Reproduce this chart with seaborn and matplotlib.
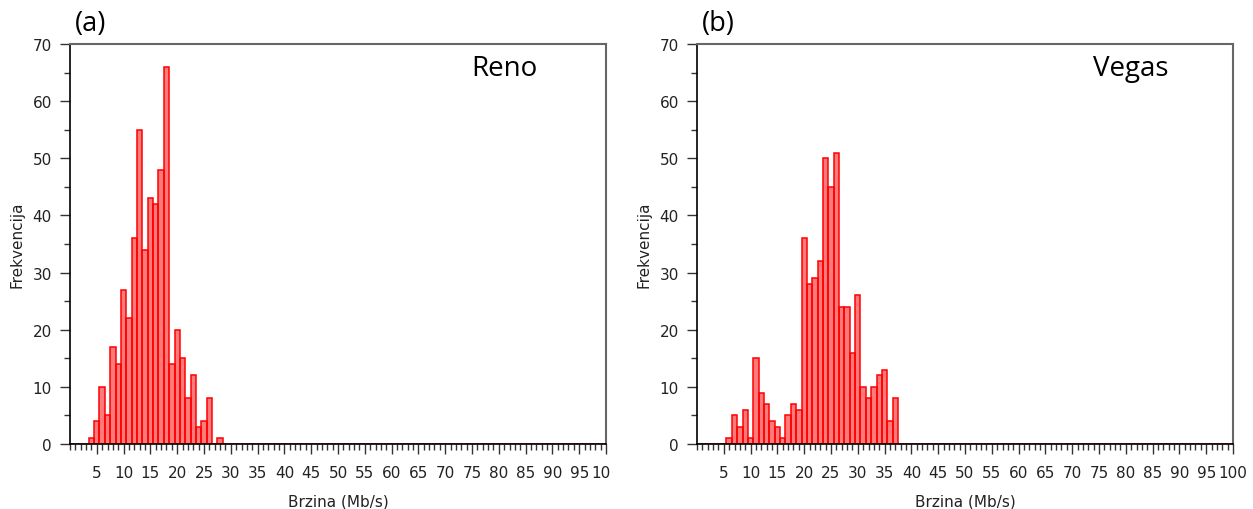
import numpy as np
import pandas as pd
import matplotlib
matplotlib.use("Agg")
import matplotlib.pyplot as plt
import seaborn as sns
from matplotlib.ticker import MultipleLocator
from matplotlib.transforms import Bbox, TransformedBbox

# ---- data (speed in Mb/s, frequency) ----
reno_speeds = list(range(4, 29))
reno_counts = [1, 4, 10, 5, 17, 14, 27, 22, 36, 55, 34, 43, 42, 48, 66,
               14, 20, 15, 8, 12, 3, 4, 8, 0, 1]
vegas_speeds = list(range(6, 38))
vegas_counts = [1, 5, 3, 6, 1, 15, 9, 7, 4, 3, 1, 5, 7, 6, 36, 28, 29, 32,
                50, 45, 51, 24, 24, 16, 26, 10, 8, 10, 12, 13, 4, 8]
panel_tags = ["(a)", "(b)"]
city_names = ["Reno", "Vegas"]
x_label = "Brzina (Mb/s)"
y_label = "Frekvencija"
x_tick_values = list(range(5, 101, 5))
y_tick_values = list(range(0, 71, 10))

sns.set_theme(style="white")
plt.rcParams["font.family"] = ["DejaVu Sans"]

W, H = 1253, 510
fig = plt.figure(figsize=(W / 100, H / 100), dpi=100)
ax_a = fig.add_axes([70 / W, (H - 445) / H, 536 / W, 400 / H])
ax_b = fig.add_axes([697 / W, (H - 445) / H, 536 / W, 400 / H])

bin_edges = [e - 0.5 for e in range(0, 102)]
for ax, xs, cnt, tag, name in [(ax_a, reno_speeds, reno_counts, panel_tags[0], city_names[0]),
                               (ax_b, vegas_speeds, vegas_counts, panel_tags[1], city_names[1])]:
    df = pd.DataFrame({"speed": np.array(xs, dtype=float),
                       "freq": np.array(cnt, dtype=float)})
    sns.histplot(data=df, x="speed", weights="freq", bins=bin_edges, ax=ax,
                 facecolor=(1.0, 0.0, 0.0, 0.52), edgecolor=(1.0, 0.0, 0.0, 1.0),
                 linewidth=1.1)
    ax.set_xlim(0, 100)
    ax.set_ylim(0, 70)
    ax.set_xticks(x_tick_values)
    ax.set_xticklabels([str(v) for v in x_tick_values])
    ax.xaxis.set_minor_locator(MultipleLocator(1))
    ax.set_yticks(y_tick_values)
    ax.yaxis.set_minor_locator(MultipleLocator(5))
    ax.tick_params(axis="both", which="major", direction="out", length=7, width=1,
                   color="#333333", labelsize=11, labelcolor="#222222",
                   bottom=True, left=True, top=False, right=False)
    ax.tick_params(axis="x", which="major", pad=8)
    ax.tick_params(axis="y", which="major", pad=6, length=7)
    ax.tick_params(axis="both", which="minor", direction="out", length=4, width=1,
                   color="#333333", bottom=True, left=True, top=False, right=False)
    ax.set_xlabel(x_label, fontsize=11, color="#222222", labelpad=10)
    ax.set_ylabel(y_label, fontsize=11, color="#222222", labelpad=6)
    for side in ["left", "bottom"]:
        ax.spines[side].set_color("black")
        ax.spines[side].set_linewidth(1.2)
    for side in ["top", "right"]:
        ax.spines[side].set_color("#666666")
        ax.spines[side].set_linewidth(1.5)
    ax.grid(False)
    ax.text(0.81, 0.94, name, transform=ax.transAxes, ha="center", va="center",
            fontsize=20, family="Open Sans", fontweight="normal", color="black")
    bb = ax.get_position()
    fig.text(bb.x0 + 5 / W, bb.y1 + 7 / H, tag, ha="left", va="bottom",
             fontsize=19.5, family="Open Sans", color="black")

# the left panel's last tick label is cut off at the panel border in the reference
fig.canvas.draw()
clip = TransformedBbox(Bbox([[0, 0], [611 / W, 1]]), fig.transFigure)
for t in ax_a.get_xticklabels():
    t.set_clip_on(True)
    t.set_clip_box(clip)

fig.savefig("out.png", dpi=100)
